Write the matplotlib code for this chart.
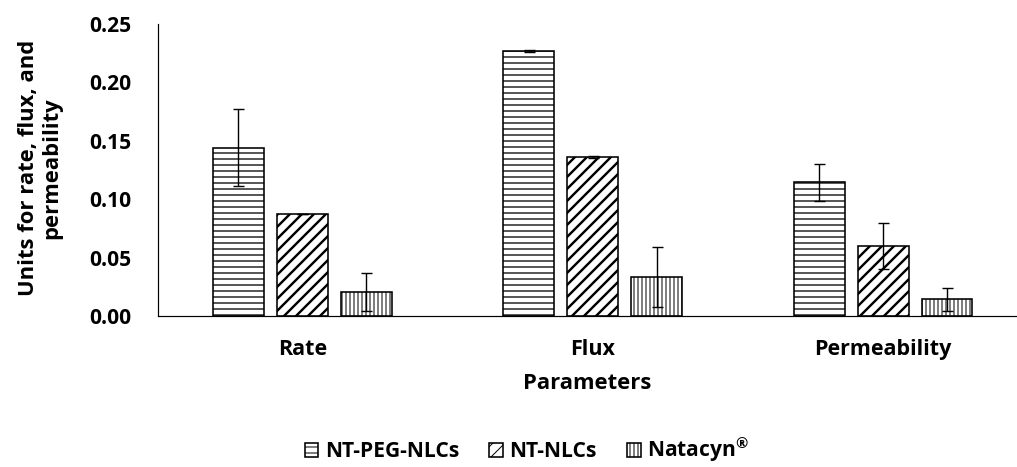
import matplotlib
matplotlib.use("Agg")
import matplotlib.pyplot as plt
import numpy as np

# Data
PARAMETERS = ["Rate", "Flux", "Permeability"]
SERIES = ["NT-PEG-NLCs", "NT-NLCs", "Natacyn$^{\u00ae}$"]
peg = [0.144, 0.227, 0.1145]
peg_err = [0.033, 0.001, 0.016]
nlc = [0.087, 0.136, 0.060]
nlc_err = [0.0, 0.001, 0.020]
nat = [0.0205, 0.033, 0.0143]
nat_err = [0.0165, 0.0257, 0.010]
YTICKS = [0.0, 0.05, 0.10, 0.15, 0.20, 0.25]

plt.rcParams["font.family"] = ["Open Sans", "DejaVu Sans"]
plt.rcParams["font.weight"] = "bold"
plt.rcParams["mathtext.default"] = "regular"

fig = plt.figure(figsize=(1017 / 72, 467 / 72), dpi=72)
ax = fig.add_axes([158 / 1017, 1 - 316 / 467, 1 - 158 / 1017, (316 - 24) / 467])

x = np.arange(len(PARAMETERS))
width = 0.175
offsets = [-0.22, 0.0, 0.22]
hatches = ["--", "//", "|||"]
hatch_lw = [1.3, 2.4, 1.0]
values = [peg, nlc, nat]
errors = [peg_err, nlc_err, nat_err]

for i in range(3):
    with plt.rc_context({"hatch.linewidth": hatch_lw[i]}):
        bars = ax.bar(x + offsets[i], values[i], width, color="white",
                      edgecolor="black", linewidth=1.6, hatch=hatches[i],
                      label=SERIES[i], zorder=2)
        for b in bars:
            if hasattr(b, "set_hatch_linewidth"):
                b.set_hatch_linewidth(hatch_lw[i])
    ax.errorbar(x + offsets[i], values[i], yerr=errors[i], fmt="none",
                ecolor="black", elinewidth=1.4, capsize=5.5, capthick=1.4,
                zorder=3)

ax.set_xlim(-0.497, 2.461)
ax.set_ylim(0, 0.25)
ax.set_yticks(YTICKS)
ax.set_yticklabels([f"{t:.2f}" for t in YTICKS])
ax.set_xticks(x)
ax.set_xticklabels(PARAMETERS)
ax.tick_params(axis="y", length=0, pad=27, labelsize=21)
ax.tick_params(axis="x", length=0, pad=23, labelsize=21.5)
for side in ["top", "right"]:
    ax.spines[side].set_visible(False)
for side in ["left", "bottom"]:
    ax.spines[side].set_linewidth(1.2)
    ax.spines[side].set_color("black")

ax.set_xlabel("Parameters", fontsize=22, fontweight="bold", labelpad=13)
fig.text(40 / 1017, 1 - 168 / 467, "Units for rate, flux, and\npermeability",
         rotation=90, ha="center", va="center", fontsize=22,
         fontweight="bold", multialignment="center", linespacing=1.15)

fig.legend(loc="center", bbox_to_anchor=(527 / 1017, 1 - 450 / 467),
           ncol=3, frameon=False, fontsize=21, handlelength=0.65,
           handleheight=0.65, handletextpad=0.3, columnspacing=1.45,
           borderpad=0.2)

fig.savefig("out.png", dpi=72)
